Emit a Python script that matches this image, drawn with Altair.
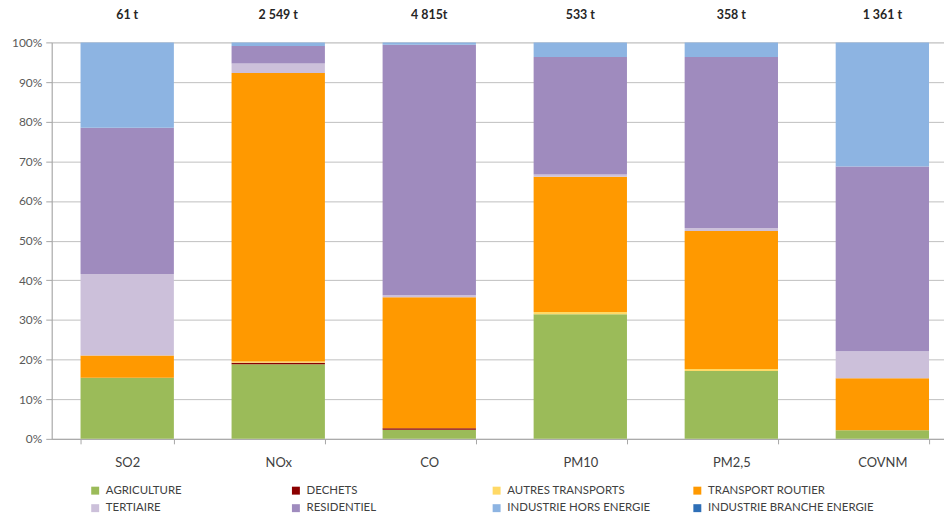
import altair as alt
import pandas as pd

categories = ["SO2", "NOx", "CO", "PM10", "PM2,5", "COVNM"]
totals = ["61 t", "2 549 t", "4 815t", "533 t", "358 t", "1 361 t"]

sectors = [
    "AGRICULTURE", "DECHETS", "AUTRES TRANSPORTS", "TRANSPORT ROUTIER",
    "TERTIAIRE", "RESIDENTIEL", "INDUSTRIE HORS ENERGIE", "INDUSTRIE BRANCHE ENERGIE",
]
colors = ["#9BBB59", "#8B0000", "#FFD966", "#FF9900",
          "#CCC0DA", "#9F8BBE", "#8DB4E2", "#2E6FB7"]

agriculture = [15.4, 18.8, 2.3, 31.4, 17.1, 2.2]
dechets = [0.0, 0.4, 0.4, 0.0, 0.0, 0.0]
autres_transports = [0.0, 0.3, 0.0, 0.6, 0.5, 0.0]
transport_routier = [5.6, 72.8, 33.0, 34.1, 34.8, 13.1]
tertiaire = [20.6, 2.4, 0.5, 0.6, 0.8, 6.8]
residentiel = [36.9, 4.4, 63.2, 29.6, 43.1, 46.6]
industrie_hors_energie = [21.5, 0.9, 0.6, 3.7, 3.7, 31.3]
industrie_branche_energie = [0.0, 0.0, 0.0, 0.0, 0.0, 0.0]

series = [agriculture, dechets, autres_transports, transport_routier,
          tertiaire, residentiel, industrie_hors_energie, industrie_branche_energie]

rows = []
for si, (name, vals) in enumerate(zip(sectors, series)):
    for c, v in zip(categories, vals):
        rows.append({"polluant": c, "secteur": name, "ordre": si, "part": v})
df = pd.DataFrame(rows)
df_tot = pd.DataFrame({"polluant": categories, "total": totals})

FONT = "Lato"

xscale = alt.Scale(domain=categories, paddingInner=0.382, paddingOuter=0.145, align=0.658)

bars = alt.Chart(df).mark_bar().encode(
    x=alt.X("polluant:N", scale=xscale, sort=categories,
            axis=alt.Axis(title=None, labelAngle=0, tickBand="extent", labelFontSize=13,
                          labelColor="#404040", labelPadding=13, tickSize=5,
                          domainColor="#A6A6A6", tickColor="#A6A6A6", grid=False)),
    y=alt.Y("part:Q", stack="zero", scale=alt.Scale(domain=[0, 100], nice=False),
            axis=alt.Axis(title=None, values=list(range(0, 101, 10)),
                          labelExpr="datum.value + '%'", labelFontSize=12,
                          labelColor="#595959", tickSize=6, tickColor="#A6A6A6",
                          domainColor="#A6A6A6", gridColor="#BFBFBF", labelPadding=4)),
    color=alt.Color("secteur:N", scale=alt.Scale(domain=sectors, range=colors),
                    legend=alt.Legend(title=None, orient="none", legendX=38, legendY=445,
                                      direction="horizontal",
                                      columns=4, gridAlign="all", columnPadding=18,
                                      rowPadding=5, symbolType="square", symbolSize=64,
                                      symbolStrokeWidth=0, labelFontSize=11.5,
                                      labelColor="#404040", labelLimit=300, labelOffset=5)),
    order=alt.Order("ordre:Q", sort="ascending"),
)

labels = alt.Chart(df_tot).mark_text(fontWeight="bold", fontSize=12.5, color="#262626",
                                     font=FONT).encode(
    x=alt.X("polluant:N", scale=xscale, sort=categories),
    y=alt.value(-28),
    text="total:N",
)

chart = alt.layer(bars, labels).properties(
    width=898, height=399,
    autosize=alt.AutoSizeParams(type="none"),
    padding={"left": 44, "top": 33, "right": 0, "bottom": 74},
).configure_view(stroke=None).configure(font=FONT).configure_axis(labelFont=FONT).configure_legend(labelFont=FONT)

chart.save("out.html", embed_options={"renderer": "svg", "actions": False})
